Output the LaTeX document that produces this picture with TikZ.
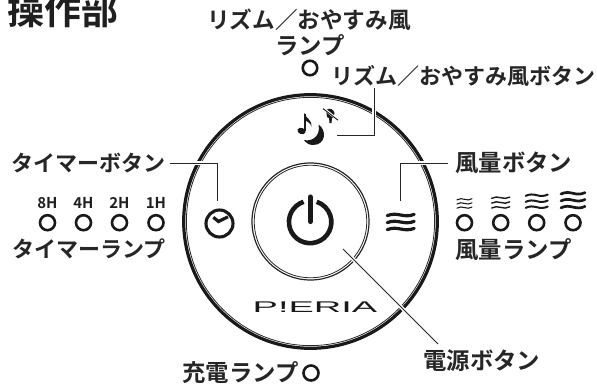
\documentclass[tikz,border=0pt]{standalone}
\usepackage{fontspec}
\setmainfont{Noto Sans CJK JP Bold}
\newfontfamily\jpbold{Noto Sans CJK JP Bold}
\newfontfamily\logofont{Liberation Sans}
\newcommand\wavyline[5]{\draw[line width=#5,line cap=round,black!90]
  ({#1-#3/2},{#2+#4*0.6}) .. controls ({#1-#3/3},{#2-#4*1.1}) and ({#1-#3/6},{#2-#4*0.9}) .. (#1,#2)
  .. controls ({#1+#3/6},{#2+#4*0.9}) and ({#1+#3/3},{#2+#4*1.1}) .. ({#1+#3/2},{#2-#4*0.6});}
\tikzset{
  lbl/.style={inner sep=0pt,font=\fontsize{22}{24}\selectfont,text=black!85},
  lblb/.style={inner sep=0pt,font=\fontsize{23.4}{25}\selectfont,text=black!85},
  lamp/.style={circle,draw=black!90,line width=2.6pt,minimum size=15pt,inner sep=0pt},
  hour/.style={inner sep=0pt,font=\jpbold\fontsize{15}{16}\selectfont,text=black!88},
  conn/.style={draw=black!85,line width=0.9pt,preaction={draw=white,line width=3.6pt}},
}
\begin{document}
\begin{tikzpicture}[x=1pt,y=-1pt]
\useasboundingbox (0,0) rectangle (597,389);
% panel rings
\draw[line width=3.2pt,black!90] (310.5,221.5) circle (126.8);
\draw[line width=0.8pt,black!85] (310.5,221.5) circle (124.1);
\draw[line width=1.2pt,black!85] (310.5,221.5) circle (58.5);
\draw[line width=0.8pt,black!85] (310.5,221.5) circle (56.3);
% texts
\node[inner sep=0pt,font=\jpbold\fontsize{37}{38}\selectfont,text=black!88] (title) at (63,10.5) {操作部};
\node[lblb,font=\fontsize{22.6}{24}\selectfont] (rlamp1) at (309,20) {リズム／おやすみ風};
\node[lblb] (rlamp2) at (310,45) {ランプ};
\node[lamp,minimum size=14.5pt] (rl) at (310,68) {};
\node[lbl,anchor=west] (rbtn) at (331,76) {リズム／おやすみ風ボタン};
\node[lbl,anchor=east] (tbtn) at (166,163) {タイマーボタン};
\node[lbl,anchor=east] (tlamp) at (166,249) {タイマーランプ};
\node[lblb,anchor=west] (wbtn) at (455,163) {風量ボタン};
\node[lblb,anchor=west] (wlamp) at (455,250) {風量ランプ};
\node[lblb,anchor=east] (clamp) at (299,373) {充電ランプ};
\node[lamp] (cl) at (311,373) {};
\node[lblb,anchor=west] (pbtn) at (423,361) {電源ボタン};
% timer lamps
\node[hour] (h8) at (47.5,203) {8H};
\node[hour] (h4) at (83.5,203) {4H};
\node[hour] (h2) at (119.5,203) {2H};
\node[hour] (h1) at (156,203) {1H};
\node[lamp] (l8) at (47.5,222.7) {};
\node[lamp] (l4) at (83.5,222.7) {};
\node[lamp] (l2) at (119.5,222.7) {};
\node[lamp] (l1) at (156,222.7) {};
% wind lamps
\node[lamp] (w1) at (464.5,222.7) {};
\node[lamp] (w2) at (500.7,222.7) {};
\node[lamp] (w3) at (536.7,222.7) {};
\node[lamp] (w4) at (573,222.7) {};
\wavyline{464.5}{199.3}{15}{0.9}{1.1}
\wavyline{464.5}{203.4}{15}{0.9}{1.1}
\wavyline{464.5}{207.6}{15}{0.9}{1.1}
\wavyline{500.7}{197.7}{18}{1}{1.4}
\wavyline{500.7}{202.5}{18}{1}{1.4}
\wavyline{500.7}{207.4}{18}{1}{1.4}
\wavyline{536.7}{195.2}{22}{1.1}{2}
\wavyline{536.7}{201.2}{22}{1.1}{2}
\wavyline{536.7}{207.2}{22}{1.1}{2}
\wavyline{573}{193.3}{24}{1.2}{2.7}
\wavyline{573}{200.2}{24}{1.2}{2.7}
\wavyline{573}{207.1}{24}{1.2}{2.7}
% wind button icon
\wavyline{400.7}{215}{27}{1.1}{3.2}
\wavyline{400.7}{222}{27}{1.1}{3.2}
\wavyline{400.7}{229}{27}{1.1}{3.2}
% clock icon
\node[circle,draw=black!90,line width=3.1pt,minimum size=27pt,inner sep=0pt] (clock) at (219.5,223.5) {};
\draw[line width=3.2pt,black!90,line join=miter] (213.3,217.3) -- (218.5,221.5) -- (228,216.8);
% power icon
\draw[line width=4.6pt,black!90] (303.6,201.8) arc[start angle=-108,end angle=-432,radius=21.2];
\draw[line width=5.2pt,line cap=round,black!90] (310.3,197) -- (310.3,221.5);
% music icon
\fill[black!90,rotate around={-20:(301.5,131)}] (301.5,131) ellipse (4.2 and 3.1);
\draw[line width=1.5pt,black!90] (305,131) -- (305,114);
\fill[black!90] (304.4,113) .. controls (306,119) and (312,119) .. (311.5,127) .. controls (310.5,122) and (307,122) .. (304.4,120) -- cycle;
\fill[black!90] (318.5,124.5) .. controls (327,130) and (326,145) .. (313,145) .. controls (309,145) and (306,143) .. (304,140)
  .. controls (312,142) and (321,136) .. (318.5,124.5) -- cycle;
% crossed bell
\fill[black!90] (326,110) .. controls (330,107) and (334,110) .. (334.5,113) -- (333.5,118) -- (332,118) -- (331.5,123) -- (329.5,123) -- (329,118) -- (327,117) -- cycle;
\draw[white,line width=2.4pt] (323,108) -- (338,120);
\draw[black!90,line width=0.9pt] (323,108.6) -- (338,120.2);
% logo
\node[inner sep=0pt,font=\logofont\fontsize{15.5}{17}\selectfont,text=black!90,xscale=2.45] (logo) at (315,307.3) {P!ERIA};
% connectors
\coordinate (rA) at (374,88);
\coordinate (rB) at (374,135);
\coordinate (rC) at (337,135);
\coordinate (tA) at (170,163);
\coordinate (tB) at (217.5,163);
\coordinate (tC) at (217.5,201);
\coordinate (wA) at (448,163);
\coordinate (wB) at (400.5,163);
\coordinate (wC) at (400.5,201);
\coordinate (pA) at (343,249);
\coordinate (pB) at (438,344);
\draw[conn] (rA) -- (rB) -- (rC);
\draw[conn] (tA) -- (tB) -- (tC);
\draw[conn] (wA) -- (wB) -- (wC);
\draw[conn] (pA) -- (pB);
\end{tikzpicture}
\end{document}
